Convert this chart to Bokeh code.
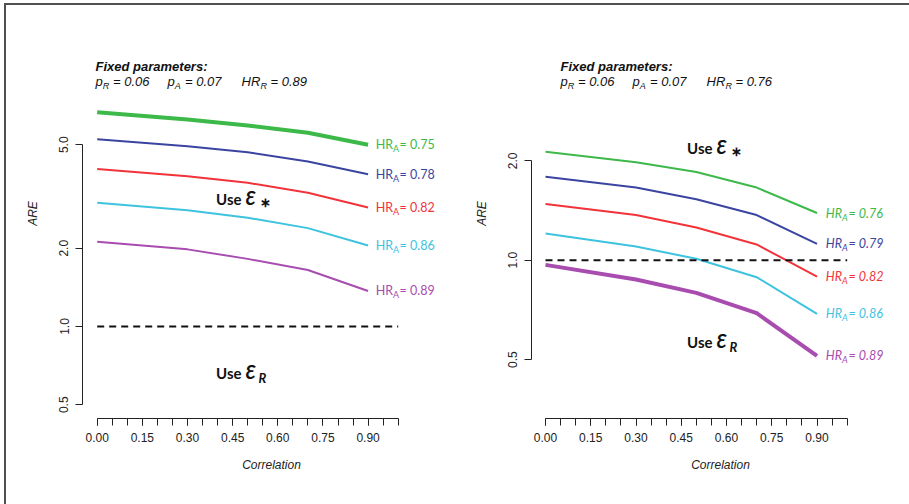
from bokeh.plotting import figure
from bokeh.models import Range1d, FixedTicker, CustomJSTickFormatter, Label
from bokeh.layouts import row
from bokeh.embed import file_html
from bokeh.resources import INLINE

# ---------------- data ----------------
corr = [0.0, 0.3, 0.5, 0.7, 0.9]

left_hr = ["0.75", "0.78", "0.82", "0.86", "0.89"]
left_are_075 = [6.67, 6.25, 5.93, 5.56, 5.00]
left_are_078 = [5.25, 4.93, 4.68, 4.31, 3.85]
left_are_082 = [4.03, 3.78, 3.57, 3.27, 2.87]
left_are_086 = [2.99, 2.80, 2.62, 2.39, 2.05]
left_are_089 = [2.12, 1.98, 1.82, 1.65, 1.37]

right_hr = ["0.76", "0.79", "0.82", "0.86", "0.89"]
right_are_076 = [2.13, 1.98, 1.85, 1.66, 1.39]
right_are_079 = [1.79, 1.66, 1.53, 1.37, 1.12]
right_are_082 = [1.48, 1.37, 1.256, 1.116, 0.892]
right_are_086 = [1.205, 1.10, 1.01, 0.888, 0.688]
right_are_089 = [0.968, 0.874, 0.796, 0.691, 0.513]

fixed_pR = ["0.06", "0.06"]
fixed_pA = ["0.07", "0.07"]
fixed_HRR = ["0.89", "0.76"]

ref_x = [0.0, 1.0]
ref_y = [1.0, 1.0]

x_major = [0.0, 0.15, 0.30, 0.45, 0.60, 0.75, 0.90]
x_minor = [round(0.05 * i, 2) for i in range(21)]
left_yticks = [0.5, 1.0, 2.0, 5.0]
right_yticks = [0.5, 1.0, 2.0]

colors = ["#3db94a", "#3b44a0", "#f2333a", "#3ec3df", "#a84cb0"]

AX = "#222222"
TXT_FONT = "Liberation Sans"
LBL_FONT = "Lato"
H = 499  # figure height (page content starts at y = 5 because of the frame border)


def make_panel(width, bl, br, xr, yr, yticks, ybounds):
    p = figure(width=width, height=H, x_range=Range1d(*xr), y_range=Range1d(*yr),
               y_axis_type="log", output_backend="svg", toolbar_location=None,
               min_border_left=bl, min_border_right=br, min_border_top=3,
               min_border_bottom=86)
    p.outline_line_color = None
    p.grid.visible = False
    p.background_fill_color = "white"
    p.border_fill_color = "white"

    xa = p.xaxis[0]
    xa.ticker = FixedTicker(ticks=x_major, minor_ticks=x_minor)
    xa.formatter = CustomJSTickFormatter(code="return tick.toFixed(2)")
    xa.bounds = (0.0, 1.0)
    xa.axis_label = "Correlation"
    xa.minor_tick_out = 7
    xa.minor_tick_in = 0
    xa.minor_tick_line_color = AX
    xa.major_label_standoff = 7
    xa.axis_label_standoff = 13

    ya = p.yaxis[0]
    ya.ticker = FixedTicker(ticks=yticks)
    ya.formatter = CustomJSTickFormatter(code="return tick.toFixed(1)")
    ya.bounds = ybounds
    ya.axis_label = "ARE"
    ya.major_label_orientation = "vertical"
    ya.minor_tick_out = 0
    ya.minor_tick_in = 0
    ya.major_label_standoff = 7
    ya.axis_label_standoff = 17

    for ax in (xa, ya):
        ax.axis_line_color = AX
        ax.axis_line_width = 1
        ax.major_tick_line_color = AX
        ax.major_tick_out = 7
        ax.major_tick_in = 0
        ax.major_label_text_font = TXT_FONT
        ax.major_label_text_font_size = "12px"
        ax.major_label_text_color = AX
        ax.axis_label_text_font = TXT_FONT
        ax.axis_label_text_font_style = "italic"
        ax.axis_label_text_font_size = "12px"
        ax.axis_label_text_color = AX
    return p


def lab(p, x, y, text, dx=0, dy=0, size="12px", font=LBL_FONT, style="normal",
        color="#111111", align="left", baseline="middle"):
    p.add_layout(Label(x=x, y=y, text=text, x_offset=dx, y_offset=dy,
                       text_font=font, text_font_size=size, text_font_style=style,
                       text_color=color, text_align=align, text_baseline=baseline))


def add_title(p, x, y, pR, pA, HRR):
    lab(p, x, y, "Fixed parameters:", dy=15, size="13px", font=TXT_FONT,
        style="bold italic", baseline="alphabetic")
    it = "italic"
    groups = [("p", "R", "= " + pR, 0, 7.3, 17.5),
              ("p", "A", "= " + pA, 72, 7.3, 17.5),
              ("HR", "R", "= " + HRR, 146, 19, 29)]
    for main, sub, rest, x0, xs, xr in groups:
        lab(p, x, y, main, dx=x0, size="13px", font=TXT_FONT, style=it, baseline="alphabetic")
        lab(p, x, y, sub, dx=x0 + xs, dy=-4, size="9px", font=TXT_FONT, style=it,
            baseline="alphabetic")
        lab(p, x, y, rest, dx=x0 + xr, size="13px", font=TXT_FONT, style=it,
            baseline="alphabetic")


def add_series(p, series, hrs, thick_idx, style):
    for i, (vals, hr) in enumerate(zip(series, hrs)):
        p.line(corr, vals, line_color=colors[i], line_width=4 if i == thick_idx else 2)
        xe, ye = corr[-1], vals[-1]
        lab(p, xe, ye, "HR", dx=25, size="12.5px", color=colors[i], style=style, align="right")
        lab(p, xe, ye, "A", dx=25, dy=-4, size="9px", color=colors[i], style=style)
        lab(p, xe, ye, "= " + hr, dx=31.5, size="12.5px", color=colors[i], style=style)
    p.line(ref_x, ref_y, line_color="#111111", line_width=2, line_dash="7 5")


def add_use(p, x, y, sub):
    lab(p, x, y, "Use", dx=-4, size="15px", style="bold", align="right")
    lab(p, x, y, "\u0190", dy=1, size="18px", style="bold italic")
    if sub == "*":
        lab(p, x, y, "\u2217", dx=14, dy=-3, size="13px", style="bold")
    else:
        lab(p, x, y, "R", dx=13, dy=-5, size="13px", style="bold italic")


# -------- helpers: reference pixel -> data coordinates for annotations --------
def lxp(px):
    return (px - 96.7) / 301.0


def lyp(py):
    return 10 ** ((326.0 - py) / 260.0)


def rxp(px):
    return (px - 545.0) / 301.7


def ryp(py):
    return 10 ** ((259.7 - py) / 330.0)


# ---------------- left panel (page x 6..466) ----------------
p1 = make_panel(460, 76, 6, (lxp(82), lxp(460)), (lyp(418), lyp(8)), left_yticks, (0.5, 5.0))
add_series(p1, [left_are_075, left_are_078, left_are_082, left_are_086, left_are_089],
           left_hr, 0, "normal")
add_title(p1, lxp(95), lyp(81), fixed_pR[0], fixed_pA[0], fixed_HRR[0])
add_use(p1, lxp(245), lyp(198), "*")
add_use(p1, lxp(245), lyp(372), "R")

# ---------------- right panel (page x 466..909) ----------------
p2 = make_panel(443, 65, 0, (rxp(531), rxp(909)), (ryp(418), ryp(8)), right_yticks, (0.5, 2.0))
add_series(p2, [right_are_076, right_are_079, right_are_082, right_are_086, right_are_089],
           right_hr, 4, "italic")
add_title(p2, rxp(560), ryp(81), fixed_pR[1], fixed_pA[1], fixed_HRR[1])
add_use(p2, rxp(716), ryp(147), "*")
add_use(p2, rxp(716), ryp(341), "R")

layout = row(p1, p2, styles={"border-left": "2px solid #505050",
                             "border-top": "2px solid #505050",
                             "margin-left": "4px", "margin-top": "3px"})
open("out.html", "w").write(file_html(layout, INLINE))
